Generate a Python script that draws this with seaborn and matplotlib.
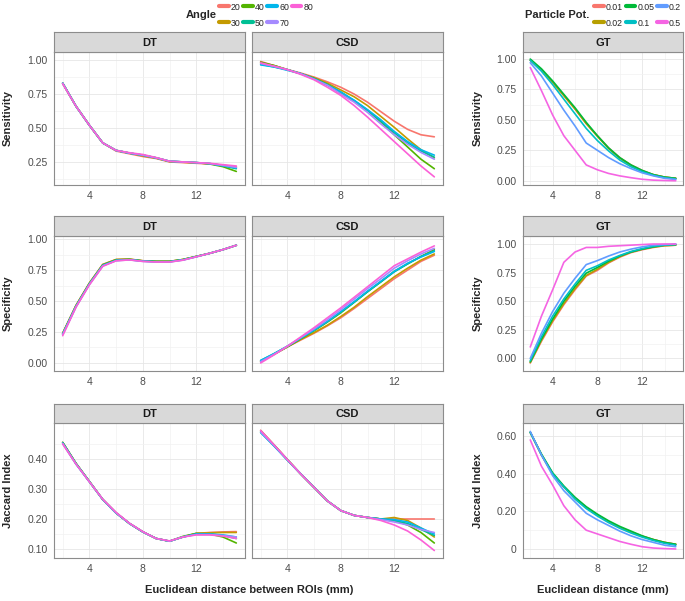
import numpy as np
import pandas as pd
import matplotlib
matplotlib.use("Agg")
import matplotlib.pyplot as plt
import seaborn as sns
from matplotlib.lines import Line2D
from matplotlib.ticker import FixedLocator

# ---------------- data ----------------
DIST = [2, 3, 4, 5, 6, 7, 8, 9, 10, 11, 12, 13, 14, 15]
ANGLES = ["20", "30", "40", "50", "60", "70", "80"]
POTS = ["0.01", "0.02", "0.05", "0.1", "0.2", "0.5"]
ANGLE_COLORS = ["#F8766D", "#C49A00", "#53B400", "#00C094", "#00B6EB", "#A58AFF", "#FB61D7"]
POT_COLORS = ["#F8766D", "#B79F00", "#00BA38", "#00BFC4", "#619CFF", "#F564E3"]

SENS_DT = {
    "20": [.83, .66, .52, .39, .33, .31, .29, .275, .25, .245, .24, .235, .225, .215],
    "30": [.83, .66, .52, .39, .335, .315, .295, .278, .252, .248, .243, .237, .225, .21],
    "40": [.83, .66, .52, .39, .335, .315, .30, .28, .255, .25, .245, .235, .215, .18],
    "50": [.83, .66, .52, .39, .335, .315, .30, .28, .255, .25, .245, .238, .222, .20],
    "60": [.83, .66, .52, .39, .335, .315, .30, .28, .255, .25, .245, .238, .222, .205],
    "70": [.83, .66, .52, .39, .335, .315, .30, .28, .255, .25, .245, .238, .225, .21],
    "80": [.825, .66, .52, .39, .335, .318, .305, .282, .255, .25, .245, .24, .23, .22],
}
SENS_CSD = {
    "20": [.99, .96, .93, .905, .875, .84, .80, .75, .69, .62, .55, .49, .45, .435],
    "30": [.98, .96, .93, .90, .87, .83, .78, .73, .665, .585, .505, .42, .34, .28],
    "40": [.985, .96, .93, .90, .865, .82, .76, .70, .63, .545, .45, .36, .27, .20],
    "50": [.97, .95, .93, .90, .865, .82, .765, .70, .63, .55, .465, .39, .33, .285],
    "60": [.965, .95, .925, .90, .86, .815, .765, .705, .635, .56, .475, .40, .34, .30],
    "70": [.975, .955, .93, .90, .86, .815, .75, .69, .615, .53, .45, .38, .32, .27],
    "80": [.98, .955, .93, .895, .855, .80, .74, .665, .58, .49, .40, .31, .22, .14],
}
SENS_GT = {
    "0.01": [.99, .91, .81, .70, .59, .47, .37, .27, .19, .13, .085, .05, .03, .02],
    "0.02": [.99, .91, .81, .70, .59, .47, .365, .265, .185, .125, .08, .05, .03, .02],
    "0.05": [1.0, .92, .82, .71, .60, .48, .37, .27, .19, .13, .085, .05, .03, .02],
    "0.1": [.99, .90, .79, .67, .55, .43, .33, .245, .17, .115, .075, .045, .025, .015],
    "0.2": [.97, .86, .72, .58, .45, .31, .25, .19, .14, .10, .065, .04, .02, .01],
    "0.5": [.93, .74, .54, .37, .25, .13, .09, .06, .04, .025, .012, .005, .002, .0],
}
SPEC_DT = {
    "20": [.24, .465, .645, .795, .835, .838, .825, .82, .82, .835, .86, .885, .915, .95],
    "30": [.24, .465, .645, .795, .835, .838, .825, .82, .82, .835, .86, .885, .915, .95],
    "40": [.235, .46, .64, .79, .833, .836, .824, .82, .82, .835, .86, .885, .915, .95],
    "50": [.235, .46, .64, .79, .83, .835, .823, .818, .818, .833, .858, .885, .915, .95],
    "60": [.23, .455, .635, .785, .828, .833, .822, .817, .817, .832, .858, .885, .915, .95],
    "70": [.23, .455, .635, .785, .825, .832, .82, .815, .815, .83, .857, .885, .915, .95],
    "80": [.22, .45, .63, .78, .825, .832, .82, .815, .815, .83, .857, .885, .915, .95],
}
SPEC_CSD = {
    "20": [.01, .07, .13, .185, .24, .30, .365, .44, .52, .60, .68, .75, .82, .87],
    "30": [.01, .07, .13, .19, .245, .305, .375, .45, .535, .615, .695, .765, .83, .88],
    "40": [.015, .07, .13, .195, .26, .33, .405, .49, .575, .655, .74, .80, .86, .915],
    "50": [.02, .075, .135, .20, .265, .335, .41, .49, .575, .655, .735, .80, .86, .905],
    "60": [.02, .075, .135, .20, .265, .335, .415, .495, .58, .66, .74, .805, .855, .90],
    "70": [.01, .07, .135, .205, .275, .35, .43, .515, .60, .68, .765, .825, .88, .925],
    "80": [.0, .065, .135, .21, .285, .365, .445, .53, .615, .70, .785, .84, .895, .945],
}
SPEC_GT = {
    "0.01": [-.04, .15, .32, .47, .60, .72, .77, .835, .885, .925, .95, .97, .985, .99],
    "0.02": [-.035, .16, .33, .48, .61, .725, .78, .84, .89, .93, .955, .975, .985, .99],
    "0.05": [-.03, .17, .345, .50, .63, .745, .795, .85, .895, .93, .955, .975, .99, .995],
    "0.1": [-.02, .19, .37, .52, .65, .77, .81, .86, .90, .935, .96, .98, .99, .995],
    "0.2": [0.0, .22, .41, .57, .70, .82, .855, .895, .93, .955, .975, .99, .995, 1.0],
    "0.5": [.10, .37, .60, .84, .93, .97, .97, .98, .985, .99, .995, 1.0, 1.0, 1.0],
}
JAC_DT = {
    "20": [.455, .385, .325, .265, .22, .185, .157, .135, .126, .14, .152, .155, .157, .158],
    "30": [.455, .385, .325, .265, .22, .185, .157, .135, .126, .14, .152, .154, .155, .155],
    "40": [.455, .385, .325, .265, .22, .185, .157, .135, .126, .142, .152, .15, .14, .12],
    "50": [.455, .385, .325, .265, .22, .185, .157, .135, .126, .14, .15, .15, .145, .135],
    "60": [.452, .383, .324, .265, .22, .185, .157, .135, .126, .14, .15, .15, .147, .14],
    "70": [.452, .383, .324, .265, .22, .185, .157, .135, .126, .14, .148, .148, .145, .14],
    "80": [.45, .383, .324, .266, .222, .186, .158, .135, .127, .14, .147, .147, .143, .135],
}
JAC_CSD = {
    "20": [.495, .447, .398, .35, .305, .26, .228, .212, .205, .20, .20, .20, .20, .20],
    "30": [.495, .447, .398, .35, .305, .26, .228, .212, .205, .20, .205, .195, .17, .14],
    "40": [.49, .445, .397, .35, .305, .26, .228, .212, .205, .20, .195, .18, .155, .12],
    "50": [.49, .445, .397, .35, .305, .26, .228, .212, .205, .20, .195, .185, .165, .145],
    "60": [.488, .443, .396, .35, .305, .26, .228, .212, .205, .20, .198, .19, .17, .15],
    "70": [.49, .445, .397, .35, .305, .26, .228, .212, .205, .198, .19, .18, .165, .155],
    "80": [.495, .447, .398, .35, .305, .26, .228, .212, .205, .195, .18, .16, .13, .095],
}
JAC_GT = {
    "0.01": [.62, .50, .40, .33, .27, .22, .18, .145, .115, .09, .068, .05, .035, .025],
    "0.02": [.62, .50, .40, .33, .27, .22, .18, .145, .115, .09, .068, .05, .035, .025],
    "0.05": [.62, .505, .405, .335, .275, .225, .185, .15, .12, .095, .07, .05, .035, .025],
    "0.1": [.62, .50, .40, .33, .265, .215, .175, .14, .11, .085, .063, .045, .03, .02],
    "0.2": [.625, .50, .39, .31, .25, .19, .155, .125, .095, .07, .05, .035, .02, .012],
    "0.5": [.58, .44, .34, .23, .155, .10, .08, .06, .04, .025, .012, .005, .002, .0],
}

ROW_LABELS = ["Sensitivity", "Specificity", "Jaccard Index"]
XLABEL_LEFT = "Euclidean distance between ROIs (mm)"
XLABEL_RIGHT = "Euclidean distance (mm)"

# ---------------- layout ----------------
W, H = 685, 601
sns.set_style("white")
plt.rcParams["font.family"] = ["Liberation Sans", "DejaVu Sans"]

fig = plt.figure(figsize=(W / 100, H / 100), dpi=100)

def box(x0, y0, x1, y1):
    return [x0 / W, 1 - y1 / H, (x1 - x0) / W, (y1 - y0) / H]

COLS = [(54, 245), (252, 443), (523, 683)]
ROWS = [(32, 52, 185), (216, 236, 371), (404, 423, 558)]

YLIMS = [[(0.08, 1.06), (0.08, 1.06), (-0.035, 1.058)],
         [(-0.065, 1.025), (-0.065, 1.025), (-0.11, 1.07)],
         [(0.07, 0.52), (0.07, 0.52), (-0.048, 0.67)]]
YMAJ = [[[0.25, 0.5, 0.75, 1.0], [0.25, 0.5, 0.75, 1.0], [0, 0.25, 0.5, 0.75, 1.0]],
        [[0, 0.25, 0.5, 0.75, 1.0]] * 3,
        [[0.1, 0.2, 0.3, 0.4], [0.1, 0.2, 0.3, 0.4], [0, 0.2, 0.4, 0.6]]]
YLAB = [[["0.25", "0.50", "0.75", "1.00"], None, ["0.00", "0.25", "0.50", "0.75", "1.00"]],
        [["0.00", "0.25", "0.50", "0.75", "1.00"], None, ["0.00", "0.25", "0.50", "0.75", "1.00"]],
        [["0.10", "0.20", "0.30", "0.40"], None, ["0", "0.20", "0.40", "0.60"]]]

DATA = [[SENS_DT, SENS_CSD, SENS_GT],
        [SPEC_DT, SPEC_CSD, SPEC_GT],
        [JAC_DT, JAC_CSD, JAC_GT]]
TITLES = ["DT", "CSD", "GT"]

BORDER = "#8C8C8C"
for r, (st, pt, pb) in enumerate(ROWS):
    for c, (x0, x1) in enumerate(COLS):
        d = DATA[r][c]
        levels = ANGLES if c < 2 else POTS
        colors = ANGLE_COLORS if c < 2 else POT_COLORS
        df = pd.DataFrame([(x, v, lv) for lv in levels for x, v in zip(DIST, d[lv])],
                          columns=["dist", "val", "level"])
        ax = fig.add_axes(box(x0, pt, x1, pb))
        ax.set_facecolor("white")
        sns.lineplot(data=df, x="dist", y="val", hue="level", hue_order=levels,
                     palette=colors, ax=ax, legend=False, linewidth=1.2,
                     estimator=None, sort=False)
        ax.set_xlim(1.35, 15.65)
        ax.set_ylim(*YLIMS[r][c])
        ax.xaxis.set_major_locator(FixedLocator([4, 8, 12]))
        ax.xaxis.set_minor_locator(FixedLocator([2, 6, 10, 14]))
        maj = YMAJ[r][c]
        ax.yaxis.set_major_locator(FixedLocator(maj))
        step = maj[1] - maj[0]
        mins = [m - step / 2 for m in maj] + [maj[-1] + step / 2]
        ax.yaxis.set_minor_locator(FixedLocator(mins))
        ax.grid(True, which="major", color="#E6E6E6", lw=0.6)
        ax.grid(True, which="minor", color="#F2F2F2", lw=0.5)
        ax.set_axisbelow(True)
        for s in ax.spines.values():
            s.set_color(BORDER)
            s.set_linewidth(0.8)
        ax.tick_params(axis="both", which="major", length=3, width=0.6, color="#555555",
                       labelsize=7.5, labelcolor="#4D4D4D", pad=1.5)
        ax.tick_params(axis="both", which="minor", length=0)
        ax.set_xticklabels(["4", "8", "12"])
        if YLAB[r][c] is None:
            ax.set_yticklabels([])
            ax.tick_params(axis="y", which="major", length=0)
        else:
            ax.set_yticklabels(YLAB[r][c])
        ax.set_xlabel("")
        ax.set_ylabel("")
        # strip
        sax = fig.add_axes(box(x0, st, x1, pt))
        sax.set_facecolor("#D9D9D9")
        sax.set_xticks([])
        sax.set_yticks([])
        for s in sax.spines.values():
            s.set_color(BORDER)
            s.set_linewidth(0.8)
        sax.text(0.5, 0.47, TITLES[c], ha="center", va="center", fontsize=8,
                 fontweight="bold", color="#1A1A1A", transform=sax.transAxes)

# y labels
for r, (st, pt, pb) in enumerate(ROWS):
    yc = 1 - ((pt + pb) / 2) / H
    fig.text(8 / W, yc, ROW_LABELS[r], rotation=90, ha="center", va="center",
             fontsize=8, fontweight="bold")
    fig.text(478 / W, yc, ROW_LABELS[r], rotation=90, ha="center", va="center",
             fontsize=8, fontweight="bold")

# x labels
fig.text(249 / W, 1 - 590 / H, XLABEL_LEFT, ha="center", va="center", fontsize=8, fontweight="bold")
fig.text(603 / W, 1 - 590 / H, XLABEL_RIGHT, ha="center", va="center", fontsize=8, fontweight="bold")

# legends
LEG_KW = dict(frameon=False, fontsize=6.3, handlelength=1.1, handletextpad=0.25,
              columnspacing=0.3, labelspacing=0.8, borderpad=0, borderaxespad=0)
fig.text(201 / W, 1 - 15 / H, "Angle", ha="center", va="center", fontsize=8, fontweight="bold")
h1 = [Line2D([0], [0], color=col, lw=3) for col in ANGLE_COLORS]
fig.legend(h1, ANGLES, loc="center left", bbox_to_anchor=(219 / W, 1 - 15 / H), ncol=4, **LEG_KW)
fig.text(557 / W, 1 - 15 / H, "Particle Pot.", ha="center", va="center", fontsize=8, fontweight="bold")
h2 = [Line2D([0], [0], color=col, lw=3) for col in POT_COLORS]
fig.legend(h2, POTS, loc="center left", bbox_to_anchor=(594 / W, 1 - 15 / H), ncol=3, **LEG_KW)

fig.savefig("out.png", dpi=100, facecolor="white")
